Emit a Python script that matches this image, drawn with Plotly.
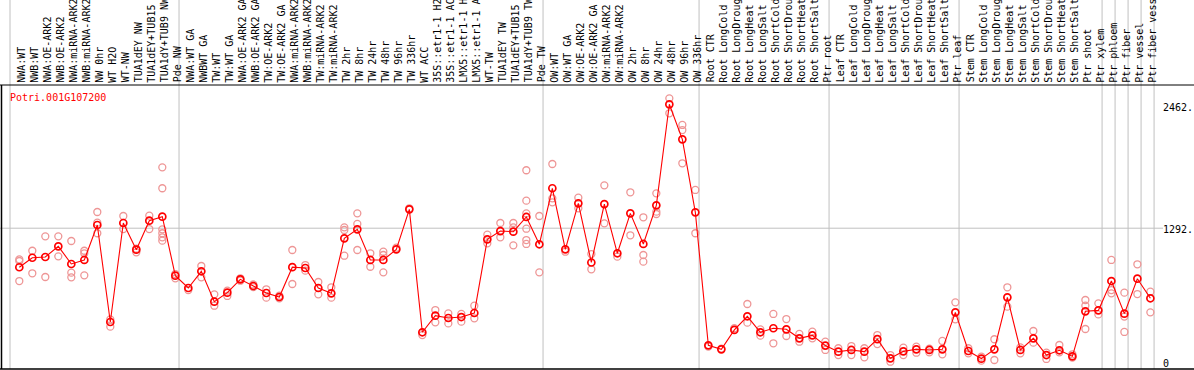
import plotly.graph_objects as go

gene_id = "Potri.001G107200"

categories = [
    "NWA:WT", "NWB:WT", "NWA:OE-ARK2", "NWB:OE-ARK2", "NWA:miRNA-ARK2", "NWB:miRNA-ARK2",
    "NW 0hr", "WT H2O", "WT-NW", "TUA1dEY NW", "TUA1dEY+TUB15", "TUA1dY+TUB9 NW", "Pde NW",
    "NWA:WT GA", "NWBWT GA", "TW:WT", "TW:WT GA", "NWA:OE-ARK2 GA", "NWB:OE-ARK2 GA",
    "TW:OE-ARK2", "TW:OE-ARK2 GA", "NWA:miRNA-ARK2", "NWB:miRNA-ARK2", "TW:miRNA-ARK2",
    "TW:miRNA-ARK2", "TW 2hr", "TW 8hr", "TW 24hr", "TW 48hr", "TW 96hr", "TW 336hr",
    "WT ACC", "35S::etr1-1 H2", "35S::etr1-1 AC", "LMX5::etr1-1 H", "LMX5::etr1-1 A",
    "WT-TW", "TUA1dEY TW", "TUA1dEY+TUB15", "TUA1dY+TUB9 TW", "Pde TW",
    "OW:WT", "OW:WT GA", "OW:OE-ARK2", "OW:OE-ARK2 GA", "OW:miRNA-ARK2", "OW:miRNA-ARK2",
    "OW 2hr", "OW 8hr", "OW 24hr", "OW 48hr", "OW 96hr", "OW 336hr",
    "Root CTR", "Root LongCold", "Root LongDroug", "Root LongHeat", "Root LongSalt",
    "Root ShortCold", "Root ShortDrou", "Root ShortHeat", "Root ShortSalt", "Ptr root",
    "Leaf CTR", "Leaf LongCold", "Leaf LongDroug", "Leaf LongHeat", "Leaf LongSalt",
    "Leaf ShortCold", "Leaf ShortDrou", "Leaf ShortHeat", "Leaf ShortSalt", "Ptr leaf",
    "Stem CTR", "Stem LongCold", "Stem LongDroug", "Stem LongHeat", "Stem LongSalt",
    "Stem ShortCold", "Stem ShortDrou", "Stem ShortHeat", "Stem ShortSalt",
    "Ptr shoot", "Ptr xylem", "Ptr phloem", "Ptr fiber", "Ptr vessel", "Ptr fiber vess",
]

means = [
    923, 1013, 1020, 1121, 954, 992, 1322, 406, 1341, 1089, 1363, 1401, 844,
    727, 885, 598, 683, 809, 746, 680, 642, 924, 916, 727, 677, 1196, 1281, 992,
    992, 1092, 1470, 309, 466, 444, 453, 491, 1187, 1265, 1259, 1398, 1140,
    1669, 1092, 1527, 968, 1520, 1055, 1432, 1143, 1508, 2462, 2131, 1442,
    186, 148, 331, 460, 309, 347, 337, 252, 280, 183,
    126, 142, 126, 244, 63, 129, 148, 142, 148, 497,
    132, 60, 148, 639, 142, 252, 94, 139, 82,
    507, 516, 793, 485, 815, 630,
]

replicates = [
    [998, 982, 793], [1079, 866], [1215, 831], [1215, 1026], [1171, 872, 828],
    [1079, 1055, 847], [1445, 1344, 1244], [431, 362], [1407, 1284], [1098, 1064],
    [1410, 1284], [1867, 1669, 1281, 1244, 1206, 1174], [859, 819],
    [708], [935, 828], [667, 560], [702, 652], [819, 796], [760, 735], [715, 636],
    [655, 630], [1086, 765], [944, 891], [784, 667], [734, 636], [1300, 1275, 1032],
    [1432, 1332, 1086], [1055, 928], [1070, 1039, 875], [1108], [1480], [283],
    [519, 403], [488, 393], [482, 409], [560, 441], [1231, 1149], [1341, 1206],
    [1341, 1300, 1130], [1839, 1552, 1432, 1287, 1180, 1143], [1407, 875],
    [1898, 1574, 1536], [1070], [1580, 1480], [1048, 904], [1697, 1338], [1023],
    [1631, 1225], [1395, 1039, 976], [1621, 1448, 1426], [2518, 2377],
    [2267, 2219, 1905], [1653, 1244],
    [173], [155], [347], [576, 400], [337, 277], [482, 205], [434, 274], [293, 220],
    [315, 252], [220, 142],
    [158, 94], [179, 94], [158, 72], [283, 198], [94, 31], [164, 94], [173, 116],
    [155, 120], [227, 101], [592, 431],
    [158, 110], [79, 41], [243, 47], [734, 551], [167, 110], [321, 211], [116, 57],
    [189, 120], [101, 69],
    [614, 560, 340], [582, 478], [992, 708, 677], [683, 457, 312], [951, 670], [692, 497],
]

group_bounds = [0, 13, 41, 53, 63, 73, 84, 85, 86, 87, 88]
ref_level = 1292
tick_vals = [2462, 1292, 0]
tick_text = ["2462.", "1292.", "0"]
tick_shift = [-3, -1, 2]

W, H = 1194, 370
MONO = "DejaVu Sans Mono"


def py(p):
    return 1 - p / H


def pxp(p):
    return p / W


rep_x = [i for i, r in enumerate(replicates) for _ in r]
rep_y = [v for r in replicates for v in r]
idx = list(range(len(categories)))

fig = go.Figure()
fig.add_trace(go.Scatter(
    x=rep_x, y=rep_y, mode="markers",
    marker=dict(symbol="circle-open", size=7, color="#EE9696", line=dict(width=1.3)),
    hoverinfo="skip", showlegend=False,
))
fig.add_trace(go.Scatter(
    x=idx, y=means, mode="lines+markers",
    line=dict(color="#FF0000", width=1.1),
    marker=dict(symbol="circle-open", size=7, color="#FF0000", line=dict(width=1.7)),
    text=categories, showlegend=False,
))

shapes = []
for k in group_bounds:
    shapes.append(dict(type="line", xref="x", yref="paper", x0=k - 0.715, x1=k - 0.715,
                       y0=py(369), y1=1, line=dict(color="#C0C0C0", width=1), layer="below"))
shapes.append(dict(type="line", xref="paper", yref="y", x0=0, x1=pxp(1163),
                   y0=ref_level, y1=ref_level, line=dict(color="#C0C0C0", width=1), layer="below"))
shapes.append(dict(type="line", xref="paper", yref="paper", x0=0, x1=1, y0=py(85), y1=py(85),
                   line=dict(color="black", width=1)))
shapes.append(dict(type="line", xref="paper", yref="paper", x0=0, x1=1, y0=py(369), y1=py(369),
                   line=dict(color="black", width=1.5)))
shapes.append(dict(type="line", xref="paper", yref="paper", x0=pxp(1.5), x1=pxp(1.5),
                   y0=py(369), y1=py(85), line=dict(color="black", width=1.5)))

annotations = []
for i, lab in enumerate(categories):
    annotations.append(dict(x=i, xref="x", xshift=2, y=py(83.5), yref="paper",
                            text=lab, textangle=-90, xanchor="center", yanchor="bottom",
                            showarrow=False, borderpad=0,
                            font=dict(family=MONO, size=10, color="black")))
annotations.append(dict(x=pxp(7.5), xref="paper", y=py(97), yref="paper", text=gene_id,
                        xanchor="left", yanchor="middle", showarrow=False,
                        font=dict(family=MONO, size=10, color="#FF0000")))
for v, t, s in zip(tick_vals, tick_text, tick_shift):
    annotations.append(dict(x=pxp(1161), xref="paper", y=v, yref="y", yshift=s, text=t,
                            xanchor="left", yanchor="middle", showarrow=False,
                            font=dict(family=MONO, size=10, color="black")))

fig.update_layout(
    width=W, height=H, margin=dict(l=0, r=0, t=0, b=0),
    paper_bgcolor="white", plot_bgcolor="white",
    xaxis=dict(domain=[pxp(1), pxp(1157)], range=[-1.408, 87.51], visible=False),
    yaxis=dict(domain=[py(369), py(85)], range=[-37.8, 2644.3], visible=False),
    shapes=shapes, annotations=annotations,
    font=dict(family=MONO, size=10),
)

fig.write_html(
    "out.html",
    config={"displayModeBar": False},
    post_script="document.body.style.margin='0';document.body.style.overflow='hidden';",
)
